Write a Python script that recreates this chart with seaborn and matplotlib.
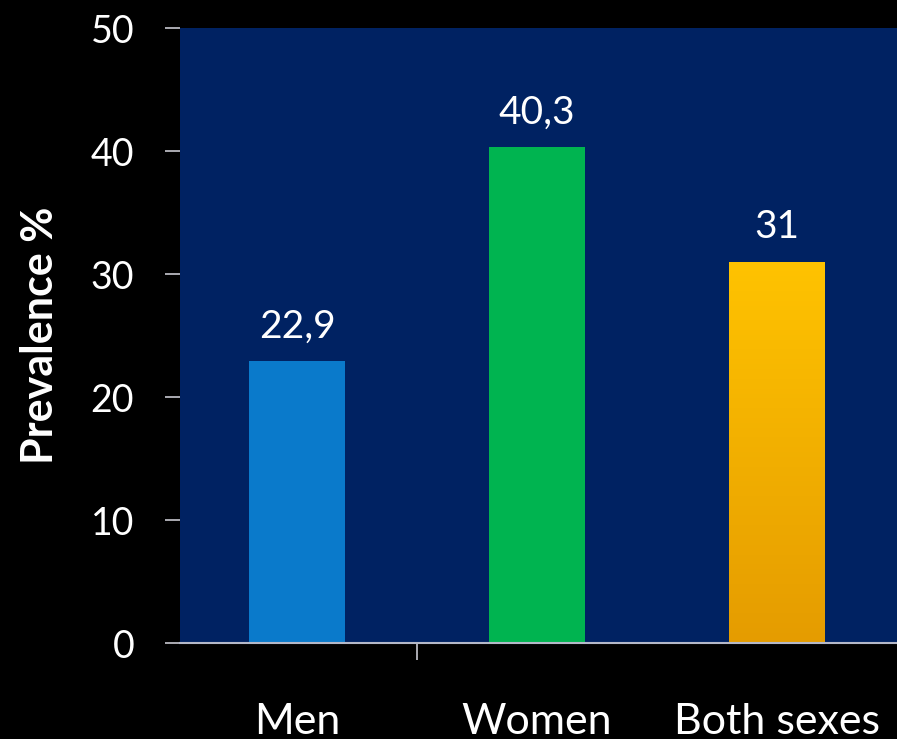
import matplotlib
matplotlib.use("Agg")
import matplotlib.pyplot as plt
import numpy as np
import pandas as pd
import seaborn as sns
from matplotlib.colors import LinearSegmentedColormap

categories = ["Men", "Women", "Both sexes"]
prevalence = [22.9, 40.3, 31.0]
value_labels = ["22,9", "40,3", "31"]
bar_colors = ["#0A7ACB", "#00B450", "#F5AE00"]
y_ticks = [0, 10, 20, 30, 40, 50]

sns.set_theme(style="dark")
plt.rcParams["font.family"] = ["Lato", "DejaVu Sans"]

fig = plt.figure(figsize=(8.97, 7.39), dpi=100, facecolor="black")
ax = fig.add_axes([0.2007, 0.1299, 0.7993, 0.8321])
ax.set_facecolor("#002262")

df = pd.DataFrame({"group": categories, "value": prevalence})
sns.barplot(data=df, x="group", y="value", hue="group", palette=bar_colors,
            width=0.4, legend=False, ax=ax, saturation=1, linewidth=0)

# vertical gold-to-amber gradient on the last bar
gold = LinearSegmentedColormap.from_list("gold", ["#E59C00", "#FFC300"])
last = ax.patches[2]
x0, y0 = last.get_x(), last.get_y()
w, h = last.get_width(), last.get_height()
grad = np.linspace(0, 1, 256).reshape(-1, 1)
img = ax.imshow(grad, cmap=gold, origin="lower", aspect="auto",
                extent=[x0, x0 + w, y0, y0 + h], zorder=last.get_zorder() + 0.1)
img.set_clip_path(last)

for bar, lab in zip(ax.patches, value_labels):
    ax.annotate(lab, (bar.get_x() + bar.get_width() / 2, bar.get_height()),
                xytext=(0, 12), textcoords="offset points", ha="center",
                va="bottom", color="white", fontsize=28)

ax.set_xlim(-0.4875, 2.5)
ax.set_ylim(0, 50)
ax.set_yticks(y_ticks)
ax.set_yticklabels([str(t) for t in y_ticks], color="white", fontsize=27)
ax.tick_params(axis="y", length=11, width=1.2, color="#C8C8D0", pad=22, left=True)
ax.set_xticks([0, 1, 2])
ax.set_xticklabels(categories, color="white", fontsize=31)
ax.tick_params(axis="x", length=0, pad=43)
ax.set_xticks([0.5], minor=True)
ax.tick_params(axis="x", which="minor", length=12, width=1.2, color="#C8C8D0",
               bottom=True)

ax.set_xlabel("")
ax.set_ylabel("Prevalence %", color="white", fontsize=31, fontweight="bold",
              labelpad=22)
ax.grid(False)
for side in ["top", "right", "left"]:
    ax.spines[side].set_visible(False)
ax.spines["bottom"].set_visible(True)
ax.spines["bottom"].set_color("#B4B8C8")
ax.spines["bottom"].set_linewidth(1.5)

fig.savefig("out.png", dpi=100, facecolor="black")
